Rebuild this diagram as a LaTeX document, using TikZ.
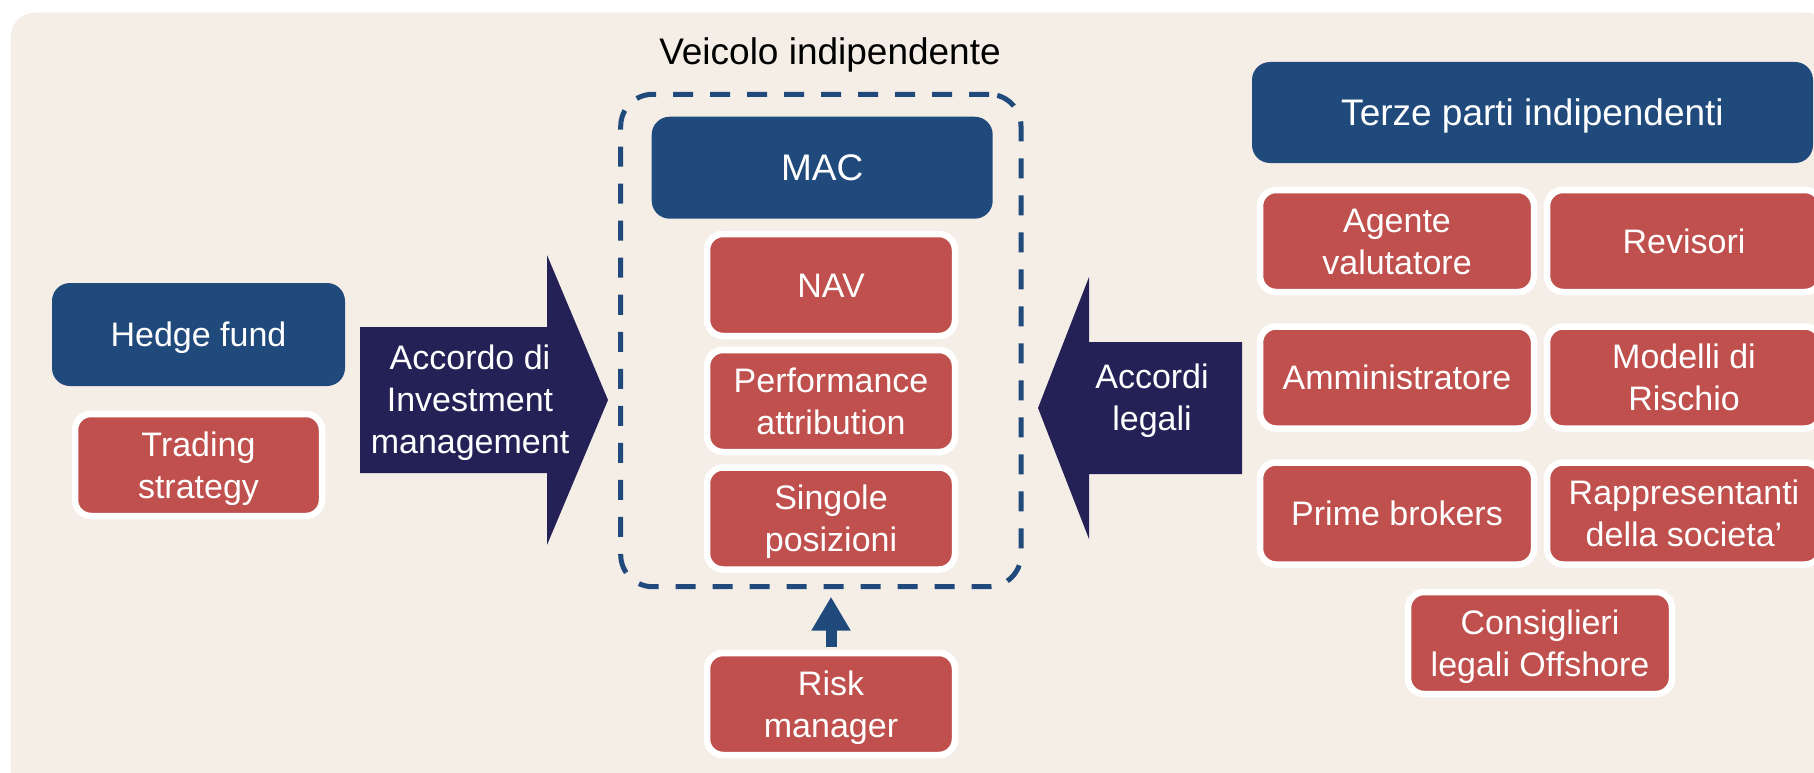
\documentclass[tikz,border=0pt]{standalone}
\usepackage{fontspec}
\setmainfont{Liberation Sans}
\usetikzlibrary{arrows.meta}
\definecolor{bgc}{HTML}{F5EEE7}
\definecolor{hblue}{HTML}{214A7C}
\definecolor{bred}{HTML}{C0504D}
\definecolor{navy}{HTML}{242156}
\newcommand{\fA}{\fontsize{34pt}{42pt}\selectfont}
\newcommand{\fB}{\fontsize{37pt}{45pt}\selectfont}
\newcommand{\lnst}{\rule[-0.22em]{0pt}{1.155em}}
\tikzset{
  redbox/.style={draw=white, line width=6.5pt, fill=bred, rounded corners=16pt,
    minimum width=248pt, minimum height=102pt, inner sep=0pt, align=center,
    text=white, font=\fA},
  bluebox/.style={fill=hblue, rounded corners=18pt, minimum height=102pt,
    inner sep=0pt, align=center, text=white, font=\fB},
  bigarrow/.style={fill=navy},
  arrtext/.style={align=center, text=white, font=\fA, inner sep=0pt}
}
\begin{document}
\begin{tikzpicture}[x=1pt,y=-1pt]
\useasboundingbox (0,0) rectangle (1814,773);
% background
\fill[bgc, rounded corners=25pt] (10.5,12.5) rectangle (1830,795);

% vehicle dashed frame
\node[draw=hblue, line width=5pt, dash pattern=on 20pt off 17pt, rounded corners=32pt,
  minimum width=400.3pt, minimum height=492.4pt, inner sep=0pt] (veh) at (820.85,340.5) {};
\node[anchor=base, font=\fB, text=black, inner sep=0pt] (vlabel) at (830,65) {Veicolo indipendente};

% middle column
\node[bluebox, minimum width=341pt] (mac) at (822.2,167.7) {\lnst MAC};
\node[redbox] (nav) at (831,285) {\lnst NAV};
\node[redbox] (perf) at (831,401) {\lnst Performance\\\lnst attribution};
\node[redbox] (sing) at (831,518.5) {\lnst Singole\\\lnst posizioni};
\node[redbox] (risk) at (831,704) {\lnst Risk\\\lnst manager};
\draw[hblue, line width=11pt, -{Triangle[length=34pt,width=37pt]}, shorten <=3pt, shorten >=7.5pt]
  (risk.north) -- (risk.north |- veh.south);

% left side
\node[bluebox, font=\fA, minimum width=293pt, minimum height=103pt] (hedge) at (198.5,334.5) {\lnst Hedge fund};
\node[redbox, minimum width=247pt] (trad) at (198.5,465) {\lnst Trading\\\lnst strategy};
\fill[bigarrow] (360,327) -- (547,327) -- (547,255) -- (608,400) -- (547,545) -- (547,473) -- (360,473) -- cycle;
\node[arrtext] (accinv) at (470,399) {\lnst Accordo di\\\lnst Investment\\\lnst management};

% right side
\fill[bigarrow] (1242,342) -- (1089,342) -- (1089,277) -- (1038,408) -- (1089,539) -- (1089,474) -- (1242,474) -- cycle;
\node[arrtext] (accleg) at (1152,397) {\lnst Accordi\\\lnst legali};

\node[bluebox, minimum width=561pt, minimum height=101pt] (terze) at (1532.5,112.5) {\lnst Terze parti indipendenti};
\node[redbox, minimum width=274pt] (agente) at (1397,241) {\lnst Agente\\\lnst valutatore};
\node[redbox, minimum width=274pt] (revis) at (1684,241) {\lnst Revisori};
\node[redbox, minimum width=274pt] (ammin) at (1397,377.5) {\lnst Amministratore};
\node[redbox, minimum width=274pt] (model) at (1684,377.5) {\lnst Modelli di\\\lnst Rischio};
\node[redbox, minimum width=274pt] (prime) at (1397,513.5) {\lnst Prime brokers};
\node[redbox, minimum width=274pt] (rappr) at (1684,513.5) {\lnst Rappresentanti\\\lnst della societa’};
\node[redbox, minimum width=264pt] (consi) at (1540,643) {\lnst Consiglieri\\\lnst legali Offshore};
\end{tikzpicture}
\end{document}
